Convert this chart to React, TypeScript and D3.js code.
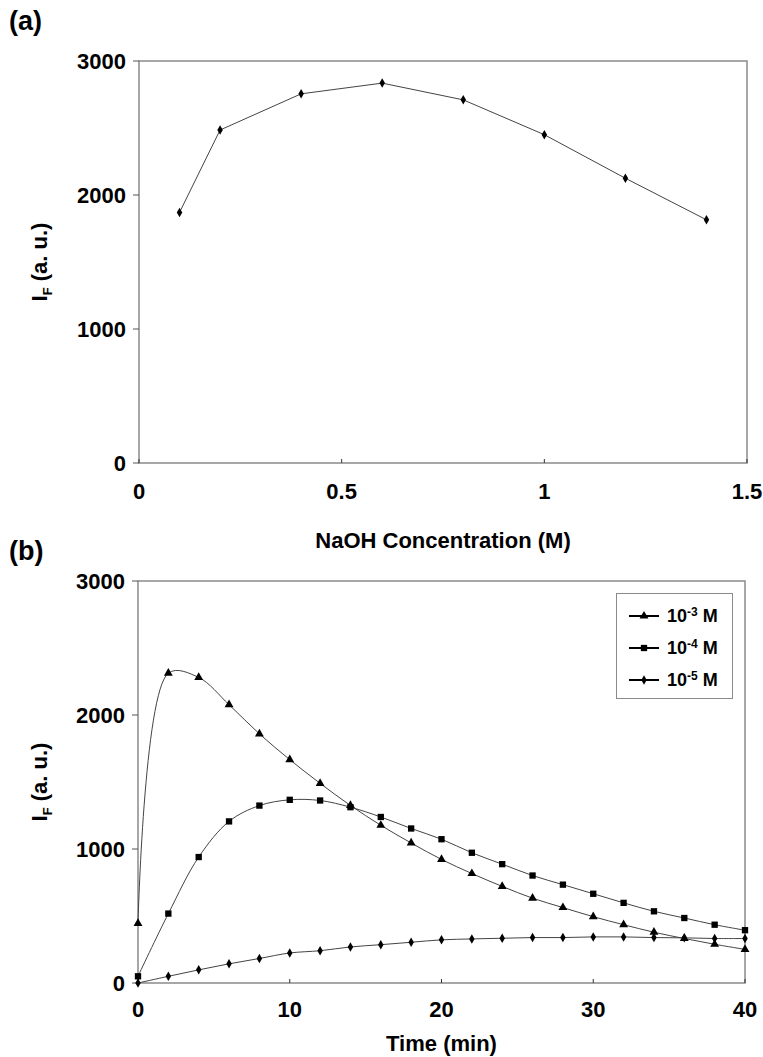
import React from 'react';
import * as d3 from 'd3';

// panel (a): NaOH concentration scan
const naohConc = [0.1, 0.2, 0.4, 0.6, 0.8, 1.0, 1.2, 1.4];
const naohIF = [1870, 2485, 2755, 2835, 2710, 2450, 2125, 1815];
const naohTicks = [0, 0.5, 1, 1.5];

// panel (b): time course at three concentrations
const timeMin = [0, 2, 4, 6, 8, 10, 12, 14, 16, 18, 20, 22, 24, 26, 28, 30, 32, 34, 36, 38, 40];
const ifE3 = [445, 2312, 2280, 2077, 1859, 1667, 1490, 1325, 1177, 1045, 922, 817, 721, 633, 563, 495, 435, 379, 332, 289, 251];
const ifE4 = [50, 518, 940, 1206, 1324, 1367, 1362, 1312, 1239, 1153, 1073, 972, 887, 802, 734, 666, 598, 535, 485, 435, 394];
const ifE5 = [0, 50, 98, 143, 183, 224, 241, 269, 286, 304, 322, 329, 334, 339, 339, 344, 344, 339, 337, 332, 332];
const timeTicks = [0, 10, 20, 30, 40];
const ifTicks = [0, 1000, 2000, 3000];

const seriesLabels = ['-3', '-4', '-5'];

const FONT = '"Liberation Sans", Arial, sans-serif';

function markerPath(kind) {
  if (kind === 'triangle') return d3.symbol(d3.symbolTriangle, 34)();
  if (kind === 'square') return d3.symbol(d3.symbolSquare, 40)();
  return d3.symbol(d3.symbolDiamond, 26)();
}

function Frame({ x, y, xTicks, yTicks, title, panel, panelY, tickDy, titleDy }) {
  const [x0, x1] = x.range();
  const [y0, y1] = y.range();
  return (
    <g fontFamily={FONT} fontWeight="bold">
      <text x={9} y={panelY} fontSize={27}>{panel}</text>
      <rect x={x0} y={y1} width={x1 - x0} height={y0 - y1} fill="none" stroke="#8a8a8a" strokeWidth={1.5} />
      {yTicks.map(t => (
        <g key={'y' + t}>
          <line x1={x0 - 6} x2={x0} y1={y(t)} y2={y(t)} stroke="#555" />
          <text x={x0 - 13} y={y(t)} dy="0.36em" fontSize={22} textAnchor="end">{t}</text>
        </g>
      ))}
      {xTicks.map(t => (
        <g key={'x' + t}>
          <line x1={x(t)} x2={x(t)} y1={y0} y2={y0 - 4} stroke="#333" />
          <text x={x(t)} y={y0 + tickDy} fontSize={22} textAnchor="middle">{String(t)}</text>
        </g>
      ))}
      <text x={(x0 + x1) / 2} y={y0 + titleDy} fontSize={22} textAnchor="middle">{title}</text>
      <text transform={`translate(47, ${(y0 + y1) / 2}) rotate(-90)`} fontSize={22} textAnchor="middle">
        I<tspan fontSize={13} dy={5}>F</tspan><tspan dy={-5}> (a. u.)</tspan>
      </text>
    </g>
  );
}

function PanelA() {
  const x = d3.scaleLinear().domain([0, 1.5]).range([139, 747]);
  const y = d3.scaleLinear().domain([0, 3000]).range([463, 61]);
  const pts = naohConc.map((c, i) => [c, naohIF[i]]);
  const line = d3.line().x(d => x(d[0])).y(d => y(d[1]));
  return (
    <g>
      <Frame x={x} y={y} xTicks={naohTicks} yTicks={ifTicks} title="NaOH Concentration (M)"
        panel="(a)" panelY={30} tickDy={36} titleDy={85} />
      <path d={line(pts)} fill="none" stroke="#444" strokeWidth={1} />
      {pts.map((p, i) => (
        <path key={i} d={markerPath('diamond')} transform={`translate(${x(p[0])},${y(p[1])})`} fill="#000" />
      ))}
    </g>
  );
}

function PanelB() {
  const x = d3.scaleLinear().domain([0, 40]).range([138, 745]);
  const y = d3.scaleLinear().domain([0, 3000]).range([983, 581]);
  const line = d3.line().x(d => x(d[0])).y(d => y(d[1])).curve(d3.curveCatmullRom.alpha(0.5));
  const series = [
    { vals: ifE3, kind: 'triangle' },
    { vals: ifE4, kind: 'square' },
    { vals: ifE5, kind: 'diamond' },
  ];
  return (
    <g>
      <Frame x={x} y={y} xTicks={timeTicks} yTicks={ifTicks} title="Time (min)"
        panel="(b)" panelY={560} tickDy={34} titleDy={68} />
      {series.map((s, si) => {
        const pts = timeMin.map((t, i) => [t, s.vals[i]]);
        return (
          <g key={si}>
            <path d={line(pts)} fill="none" stroke="#444" strokeWidth={1} />
            {pts.map((p, i) => (
              <path key={i} d={markerPath(s.kind)} transform={`translate(${x(p[0])},${y(p[1])})`} fill="#000" />
            ))}
          </g>
        );
      })}
      {/* legend */}
      <g fontFamily={FONT} fontWeight="bold">
        <rect x={616.5} y={593.5} width={116} height={105} fill="#fff" stroke="#8a8a8a" strokeWidth={1} />
        {series.map((s, i) => {
          const ly = 616 + i * 32;
          return (
            <g key={i}>
              <line x1={629} x2={659} y1={ly} y2={ly} stroke="#000" strokeWidth={2} />
              <path d={markerPath(s.kind)} transform={`translate(644,${ly})`} fill="#000" />
              <text x={667} y={ly} dy="0.36em" fontSize={18}>
                10<tspan fontSize={12} dy={-6}>{seriesLabels[i]}</tspan><tspan dy={6}> M</tspan>
              </text>
            </g>
          );
        })}
      </g>
    </g>
  );
}

export default function App() {
  return (
    <svg width={763} height={1057} style={{ position: 'absolute', left: 0, top: 0, background: '#fff' }}>
      <rect width={763} height={1057} fill="#fff" />
      <PanelA />
      <PanelB />
    </svg>
  );
}
